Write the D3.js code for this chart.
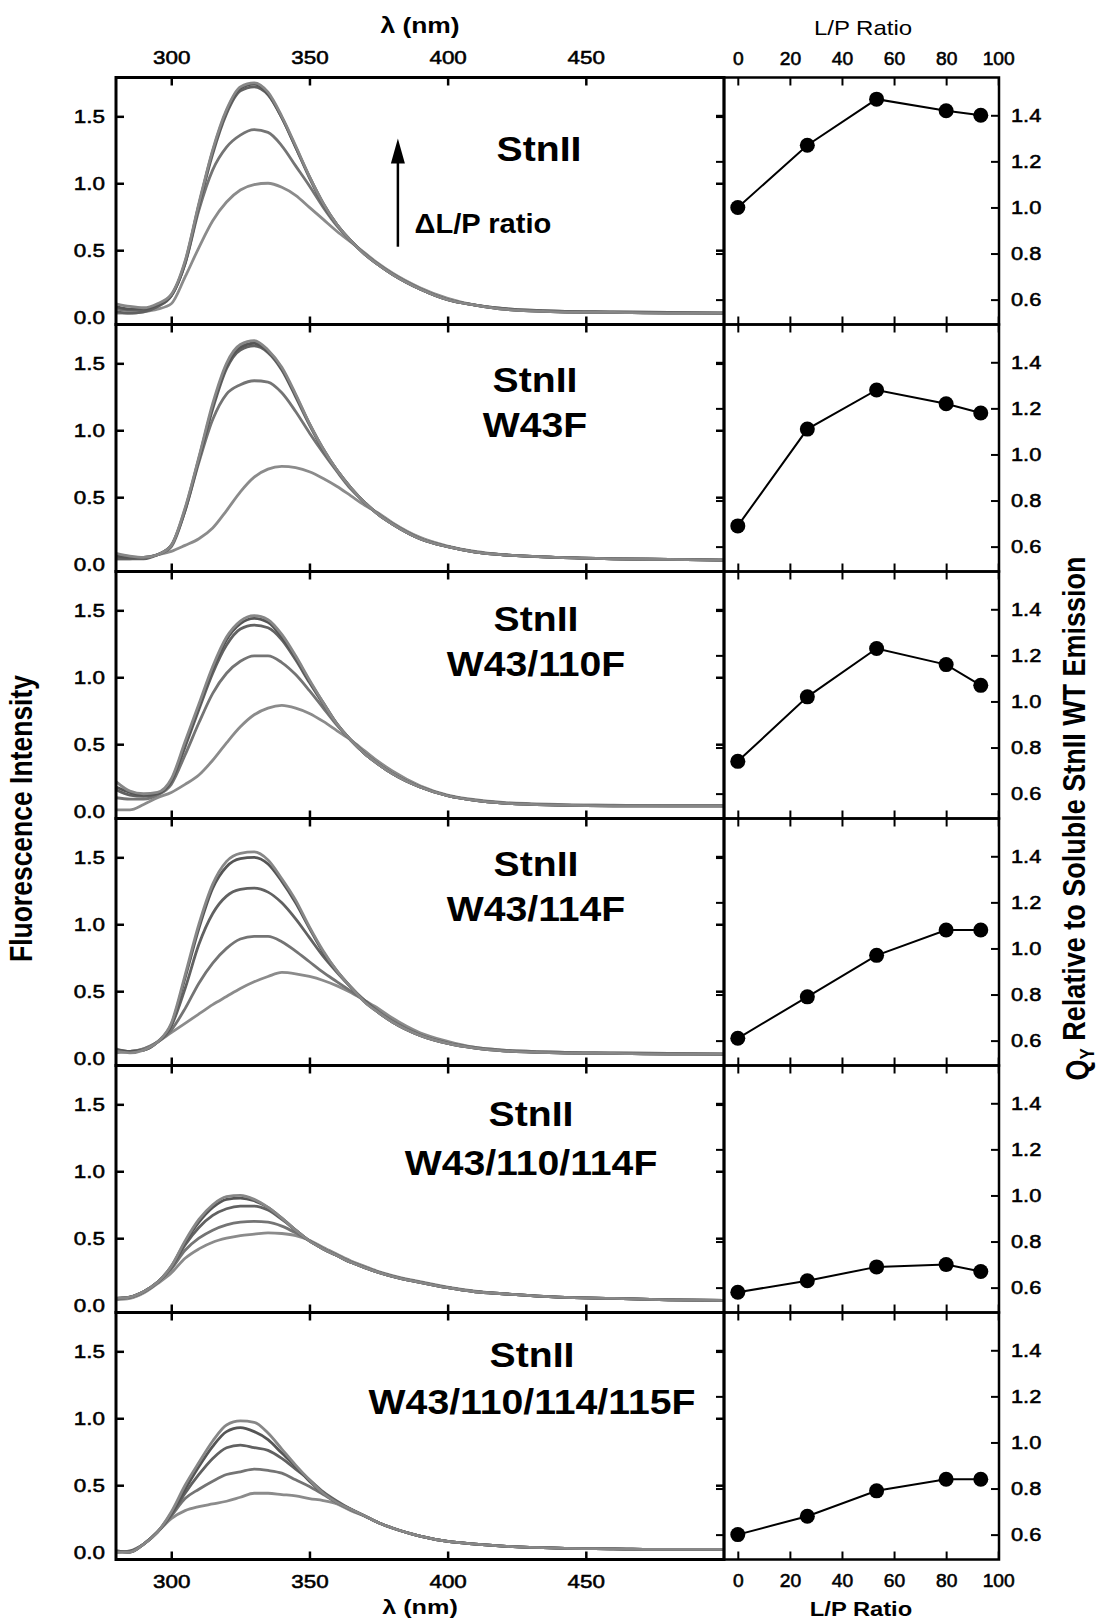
<!DOCTYPE html>
<html>
<head>
<meta charset="utf-8">
<script src="https://cdn.jsdelivr.net/npm/d3@7"></script>
<style>
  body { margin: 0; background: #fff; }
  svg { display: block; font-family: "Liberation Sans", Arial, sans-serif; }
</style>
</head>
<body>
<script>
// wavelength grid shared by all spectra (nm)
const wavelengths = [280,285,290,295,300,305,310,315,320,325,330,335,340,345,350,355,360,365,370,375,380,390,400,410,420,440,460,480,500];

// lipid/protein ratios of the right-hand plots
const lpRatio = [0, 26.7, 53.3, 80, 93.3];

// panel names
const names = [
  ["StnII"],
  ["StnII", "W43F"],
  ["StnII", "W43/110F"],
  ["StnII", "W43/114F"],
  ["StnII", "W43/110/114F"],
  ["StnII", "W43/110/114/115F"]
];

// emission spectra, highest curve first
const specWT = [
  [0.10,0.08,0.07,0.10,0.17,0.42,0.85,1.25,1.55,1.72,1.75,1.68,1.50,1.28,1.05,0.85,0.69,0.57,0.47,0.39,0.32,0.21,0.13,0.09,0.06,0.04,0.035,0.03,0.03],
  [0.08,0.06,0.06,0.09,0.16,0.41,0.84,1.24,1.54,1.71,1.74,1.67,1.49,1.27,1.05,0.85,0.69,0.57,0.47,0.39,0.32,0.21,0.13,0.09,0.06,0.04,0.035,0.03,0.03],
  [0.04,0.03,0.04,0.08,0.16,0.40,0.83,1.22,1.52,1.69,1.72,1.66,1.49,1.27,1.04,0.84,0.69,0.57,0.47,0.39,0.32,0.21,0.13,0.09,0.065,0.045,0.04,0.035,0.03],
  [0.06,0.05,0.05,0.08,0.16,0.40,0.80,1.10,1.27,1.36,1.40,1.38,1.28,1.13,0.98,0.82,0.68,0.57,0.47,0.39,0.32,0.21,0.13,0.09,0.06,0.04,0.035,0.03,0.03],
  [0.03,0.03,0.04,0.06,0.10,0.30,0.52,0.72,0.86,0.95,0.99,1.00,0.97,0.91,0.82,0.73,0.64,0.56,0.48,0.40,0.33,0.22,0.14,0.09,0.065,0.045,0.04,0.035,0.03]
];
const specW43F = [
  [0.08,0.06,0.05,0.07,0.14,0.42,0.80,1.20,1.50,1.64,1.67,1.60,1.47,1.27,1.05,0.86,0.70,0.57,0.46,0.37,0.30,0.19,0.13,0.09,0.07,0.05,0.04,0.035,0.03],
  [0.06,0.05,0.05,0.07,0.14,0.41,0.79,1.18,1.48,1.62,1.65,1.59,1.46,1.26,1.05,0.86,0.70,0.57,0.46,0.37,0.30,0.19,0.13,0.09,0.07,0.05,0.04,0.035,0.03],
  [0.04,0.04,0.04,0.07,0.14,0.40,0.78,1.16,1.46,1.60,1.63,1.58,1.45,1.25,1.04,0.85,0.70,0.57,0.46,0.37,0.30,0.19,0.13,0.09,0.07,0.05,0.04,0.035,0.03],
  [0.06,0.05,0.05,0.07,0.13,0.40,0.76,1.08,1.27,1.34,1.37,1.36,1.28,1.14,0.98,0.83,0.69,0.56,0.46,0.37,0.30,0.19,0.13,0.09,0.07,0.05,0.04,0.035,0.03],
  [0.04,0.04,0.05,0.07,0.095,0.14,0.19,0.27,0.40,0.54,0.65,0.71,0.73,0.72,0.69,0.64,0.58,0.51,0.44,0.38,0.31,0.20,0.135,0.095,0.07,0.05,0.04,0.035,0.03]
];
const specW43_110F = [
  [0.22,0.15,0.13,0.14,0.24,0.52,0.80,1.08,1.30,1.42,1.46,1.43,1.32,1.16,0.98,0.81,0.65,0.53,0.43,0.35,0.28,0.18,0.115,0.08,0.06,0.045,0.04,0.04,0.04],
  [0.18,0.14,0.12,0.13,0.23,0.50,0.78,1.06,1.28,1.40,1.44,1.41,1.30,1.15,0.97,0.81,0.65,0.53,0.43,0.35,0.28,0.18,0.115,0.08,0.06,0.045,0.04,0.04,0.04],
  [0.16,0.12,0.11,0.13,0.22,0.48,0.76,1.03,1.24,1.36,1.39,1.37,1.28,1.13,0.96,0.80,0.65,0.53,0.43,0.35,0.28,0.18,0.115,0.08,0.06,0.045,0.04,0.04,0.04],
  [0.10,0.09,0.09,0.12,0.20,0.42,0.66,0.88,1.03,1.12,1.16,1.16,1.11,1.02,0.90,0.77,0.64,0.53,0.43,0.35,0.28,0.18,0.115,0.08,0.06,0.045,0.04,0.04,0.04],
  [0.01,0.01,0.05,0.10,0.14,0.20,0.27,0.38,0.51,0.63,0.72,0.77,0.79,0.77,0.73,0.67,0.60,0.53,0.45,0.37,0.30,0.19,0.12,0.085,0.065,0.05,0.045,0.04,0.04]
];
const specW43_114F = [
  [0.05,0.04,0.06,0.12,0.26,0.62,1.00,1.30,1.47,1.53,1.54,1.48,1.34,1.18,0.98,0.80,0.65,0.53,0.42,0.34,0.27,0.17,0.11,0.075,0.055,0.04,0.035,0.03,0.03],
  [0.06,0.05,0.06,0.12,0.25,0.60,0.97,1.27,1.43,1.49,1.50,1.45,1.32,1.16,0.97,0.79,0.65,0.53,0.42,0.34,0.27,0.17,0.11,0.075,0.055,0.04,0.035,0.03,0.03],
  [0.06,0.05,0.06,0.12,0.24,0.52,0.85,1.08,1.21,1.26,1.27,1.24,1.16,1.04,0.90,0.76,0.64,0.53,0.43,0.34,0.27,0.17,0.11,0.075,0.055,0.04,0.035,0.03,0.03],
  [0.07,0.05,0.07,0.12,0.21,0.37,0.56,0.71,0.82,0.89,0.91,0.91,0.87,0.80,0.72,0.64,0.57,0.50,0.43,0.35,0.28,0.175,0.115,0.08,0.06,0.045,0.04,0.035,0.03],
  [0.04,0.05,0.07,0.12,0.19,0.26,0.33,0.40,0.46,0.52,0.57,0.61,0.64,0.63,0.61,0.58,0.54,0.49,0.43,0.37,0.30,0.19,0.125,0.08,0.06,0.045,0.04,0.035,0.03]
];
const specW43_110_114F = [
  [0.05,0.06,0.10,0.17,0.29,0.48,0.64,0.75,0.81,0.82,0.79,0.73,0.65,0.56,0.48,0.42,0.37,0.32,0.28,0.245,0.215,0.17,0.13,0.10,0.085,0.06,0.05,0.04,0.035],
  [0.05,0.06,0.10,0.17,0.29,0.47,0.62,0.73,0.79,0.80,0.78,0.73,0.65,0.56,0.48,0.42,0.37,0.32,0.28,0.245,0.215,0.17,0.13,0.10,0.085,0.06,0.05,0.04,0.035],
  [0.05,0.06,0.10,0.17,0.28,0.45,0.58,0.67,0.72,0.74,0.74,0.71,0.64,0.56,0.48,0.42,0.37,0.32,0.28,0.245,0.215,0.17,0.13,0.10,0.085,0.06,0.05,0.04,0.035],
  [0.05,0.06,0.10,0.17,0.27,0.41,0.50,0.56,0.60,0.62,0.625,0.62,0.59,0.54,0.48,0.42,0.37,0.32,0.28,0.245,0.215,0.17,0.13,0.10,0.085,0.06,0.05,0.04,0.035],
  [0.04,0.05,0.09,0.16,0.24,0.35,0.42,0.47,0.50,0.52,0.53,0.54,0.535,0.52,0.485,0.43,0.38,0.33,0.29,0.25,0.22,0.175,0.135,0.105,0.085,0.06,0.05,0.04,0.035]
];
const specW43_110_114_115F = [
  [0.00,0.00,0.06,0.15,0.30,0.50,0.67,0.83,0.95,0.98,0.97,0.89,0.77,0.65,0.54,0.44,0.37,0.32,0.27,0.22,0.18,0.12,0.08,0.06,0.045,0.03,0.025,0.02,0.02],
  [0.01,0.00,0.06,0.15,0.29,0.47,0.64,0.79,0.90,0.93,0.90,0.84,0.74,0.64,0.53,0.44,0.37,0.32,0.27,0.22,0.18,0.12,0.08,0.06,0.045,0.03,0.025,0.02,0.02],
  [0.00,0.01,0.06,0.15,0.28,0.44,0.58,0.70,0.78,0.80,0.78,0.76,0.70,0.62,0.54,0.45,0.38,0.32,0.27,0.22,0.18,0.12,0.08,0.06,0.045,0.03,0.025,0.02,0.02],
  [0.00,0.00,0.06,0.15,0.27,0.40,0.47,0.53,0.58,0.60,0.62,0.61,0.59,0.54,0.49,0.43,0.37,0.32,0.27,0.22,0.18,0.12,0.08,0.06,0.045,0.03,0.025,0.02,0.02],
  [0.01,0.00,0.06,0.15,0.25,0.31,0.34,0.36,0.38,0.41,0.44,0.44,0.43,0.42,0.40,0.385,0.36,0.31,0.27,0.22,0.18,0.12,0.08,0.06,0.045,0.03,0.025,0.02,0.02]
];

// quantum yield relative to soluble StnII WT, one value per L/P ratio
const qyWT = [1.00, 1.27, 1.47, 1.42, 1.40];
const qyW43F = [0.69, 1.11, 1.28, 1.22, 1.18];
const qyW43_110F = [0.74, 1.02, 1.23, 1.16, 1.07];
const qyW43_114F = [0.61, 0.79, 0.97, 1.08, 1.08];
const qyW43_110_114F = [0.58, 0.63, 0.69, 0.70, 0.67];
const qyW43_110_114_115F = [0.60, 0.68, 0.79, 0.84, 0.84];

const spectra = [specWT, specW43F, specW43_110F, specW43_114F, specW43_110_114F, specW43_110_114_115F];
const qy = [qyWT, qyW43F, qyW43_110F, qyW43_114F, qyW43_110_114F, qyW43_110_114_115F];

const lamTicks = [300, 350, 400, 450];
const fiTicks = [0, 0.5, 1.0, 1.5];
const lpTicks = [0, 20, 40, 60, 80, 100];
const qyTicks = [0.6, 0.8, 1.0, 1.2, 1.4];

// layout
const W = 1097, H = 1620;
const top0 = 77.5, ph = 247;
const lx0 = 116, lx1 = 724, rx1 = 999;
const titleX = [539, 535, 536, 536, 531, 532];
const titleBase = [[83], [67, 112], [59, 104], [57, 102], [60, 109], [54, 101]];
const curveColors = ["#878787", "#555555", "#616161", "#747474", "#8b8b8b"];

const svg = d3.select("body").append("svg").attr("width", W).attr("height", H);

const xL = d3.scaleLinear().domain([280, 500]).range([lx0, lx1]);
const xR = d3.scaleLinear().domain([-5.3, 100.3]).range([lx1, rx1]);

function stretch(sel, s) {
  sel.each(function() {
    const t = d3.select(this);
    const x = +t.attr("x") || 0;
    t.attr("x", x / s).attr("transform", `scale(${s},1)`);
  });
}

function styleAxis(g, w) {
  g.select(".domain").remove();
  g.selectAll(".tick line").attr("stroke", "#000").attr("stroke-width", w);
  g.selectAll("text").attr("fill", "#000").attr("stroke", "#000").attr("stroke-width", 0.55);
}

spectra.forEach((spec, i) => {
  const top = top0 + ph * i, bot = top + ph;
  const yL = d3.scaleLinear().domain([-0.055, 1.79]).range([bot, top]);
  const yR = d3.scaleLinear().domain([0.492, 1.564]).range([bot, top]);
  const first = i === 0, last = i === spectra.length - 1;

  // spectra
  svg.append("clipPath").attr("id", "clip" + i)
    .append("rect").attr("x", lx0).attr("y", top).attr("width", lx1 - lx0).attr("height", ph);
  const line = d3.line().x(d => xL(d[0])).y(d => yL(d[1])).curve(d3.curveMonotoneX);
  svg.append("g").attr("clip-path", `url(#clip${i})`)
    .selectAll("path").data(spec.slice().reverse()).join("path")
    .attr("d", s => line(wavelengths.map((w, k) => [w, s[k]])))
    .attr("fill", "none")
    .attr("stroke", (s, k) => curveColors[spec.length - 1 - k])
    .attr("stroke-width", 2.8)
    .attr("stroke-linejoin", "round");

  // left panel axes
  const gl = svg.append("g").attr("transform", `translate(${lx0},0)`)
    .call(d3.axisLeft(yL).tickValues(fiTicks).tickSize(-8).tickPadding(11).tickFormat(d3.format(".1f")));
  styleAxis(gl, 2.5);
  gl.selectAll(".tick").filter(d => d === 0).select("line").remove();
  gl.selectAll("text").attr("font-size", 19);
  stretch(gl.selectAll("text"), 1.18);

  const glr = svg.append("g").attr("transform", `translate(${lx1},0)`)
    .call(d3.axisRight(yL).tickValues([0.5, 1.0, 1.5]).tickSize(-8).tickFormat(""));
  styleAxis(glr, 2.5);

  const glt = svg.append("g").attr("transform", `translate(0,${top})`)
    .call(d3.axisTop(xL).tickValues(lamTicks).tickSize(-8).tickFormat(first ? d3.format("d") : ""));
  styleAxis(glt, 2.5);
  glt.selectAll("text").attr("font-size", 19).attr("y", -13.5).attr("dy", 0);
  stretch(glt.selectAll("text"), 1.18);

  const glb = svg.append("g").attr("transform", `translate(0,${bot})`)
    .call(d3.axisBottom(xL).tickValues(lamTicks).tickSize(-8).tickFormat(last ? d3.format("d") : ""));
  styleAxis(glb, 2.5);
  glb.selectAll("text").attr("font-size", 19).attr("y", 29).attr("dy", 0);
  stretch(glb.selectAll("text"), 1.18);

  svg.append("rect").attr("x", lx0).attr("y", top).attr("width", lx1 - lx0).attr("height", ph)
    .attr("fill", "none").attr("stroke", "#000").attr("stroke-width", 3);

  // panel title
  const t = svg.append("g").attr("font-size", 35).attr("font-weight", "bold").attr("text-anchor", "middle");
  names[i].forEach((n, k) => {
    t.append("text").attr("transform", `translate(${titleX[i]},${top + titleBase[i][k]}) scale(1.12,1)`).text(n);
  });

  // right panel: quantum yield vs L/P ratio
  const grl = svg.append("g").attr("transform", `translate(${lx1},0)`)
    .call(d3.axisLeft(yR).tickValues([0.6, 0.8, 1.2, 1.4]).tickSize(8).tickFormat(""));
  styleAxis(grl, 2);

  const grr = svg.append("g").attr("transform", `translate(${rx1},0)`)
    .call(d3.axisRight(yR).tickValues(qyTicks).tickSize(-8).tickPadding(12).tickFormat(d3.format(".1f")));
  styleAxis(grr, 2);
  grr.selectAll("text").attr("font-size", 18.5);
  stretch(grr.selectAll("text"), 1.18);

  const grt = svg.append("g").attr("transform", `translate(0,${top})`)
    .call(d3.axisTop(xR).tickValues(lpTicks).tickSize(-8).tickFormat(first ? d3.format("d") : ""));
  styleAxis(grt, 2);
  grt.selectAll("text").attr("font-size", 18.5).attr("y", -12.5).attr("dy", 0);
  stretch(grt.selectAll("text"), 1.04);

  const grb = svg.append("g").attr("transform", `translate(0,${bot})`)
    .call(d3.axisBottom(xR).tickValues(lpTicks).tickSize(-8).tickFormat(last ? d3.format("d") : ""));
  styleAxis(grb, 2);
  grb.selectAll("text").attr("font-size", 18.5).attr("y", 27.5).attr("dy", 0);
  stretch(grb.selectAll("text"), 1.04);

  svg.append("rect").attr("x", lx1).attr("y", top).attr("width", rx1 - lx1).attr("height", ph)
    .attr("fill", "none").attr("stroke", "#000").attr("stroke-width", 2.5);

  const pts = lpRatio.map((r, k) => [r, qy[i][k]]);
  svg.append("path")
    .attr("d", d3.line().x(d => xR(d[0])).y(d => yR(d[1]))(pts))
    .attr("fill", "none").attr("stroke", "#000").attr("stroke-width", 2);
  svg.append("g").selectAll("circle").data(pts).join("circle")
    .attr("cx", d => xR(d[0])).attr("cy", d => yR(d[1])).attr("r", 7.5).attr("fill", "#000");

  // arrow annotation in the first panel
  if (first) {
    const ax = xL(382);
    svg.append("line").attr("x1", ax).attr("x2", ax).attr("y1", yL(0.526)).attr("y2", yL(1.2))
      .attr("stroke", "#000").attr("stroke-width", 2.5);
    const tip = yL(1.335);
    svg.append("path").attr("d", `M${ax},${tip} L${ax - 7},${tip + 25} L${ax + 7},${tip + 25} Z`).attr("fill", "#000");
    svg.append("text").attr("transform", `translate(${xL(388)},${yL(0.63)}) scale(1.04,1)`)
      .attr("font-size", 28).attr("font-weight", "bold").text("\u0394L/P ratio");
  }
});

// axis titles
function hText(x, y, s, size, weight, str) {
  svg.append("text").attr("transform", `translate(${x},${y}) scale(${s},1)`)
    .attr("text-anchor", "middle").attr("font-size", size).attr("font-weight", weight).text(str);
}
hText((lx0 + lx1) / 2, 33, 1.2, 22, "bold", "\u03bb (nm)");
hText((lx0 + lx1) / 2, 1614, 1.2, 21, "bold", "\u03bb (nm)");
hText(863, 35, 1.2, 20, "normal", "L/P Ratio");
hText(861, 1616, 1.13, 21, "bold", "L/P Ratio");

const midY = top0 + ph * 3;
svg.append("text").attr("transform", `translate(32,${midY}) rotate(-90) scale(1,1.15)`)
  .attr("text-anchor", "middle").attr("font-size", 26.5).attr("font-weight", "bold")
  .text("Fluorescence Intensity");

const qt = svg.append("text").attr("transform", `translate(1088,${midY}) rotate(-90) scale(1,1.15)`)
  .attr("text-anchor", "middle").attr("font-size", 27).attr("font-weight", "bold");
qt.append("tspan").text("Q");
qt.append("tspan").attr("font-size", 17).attr("dy", "0.3em").text("Y");
qt.append("tspan").attr("dy", "-0.3em").text(" Relative to Soluble StnII WT Emission");
</script>
</body>
</html>
